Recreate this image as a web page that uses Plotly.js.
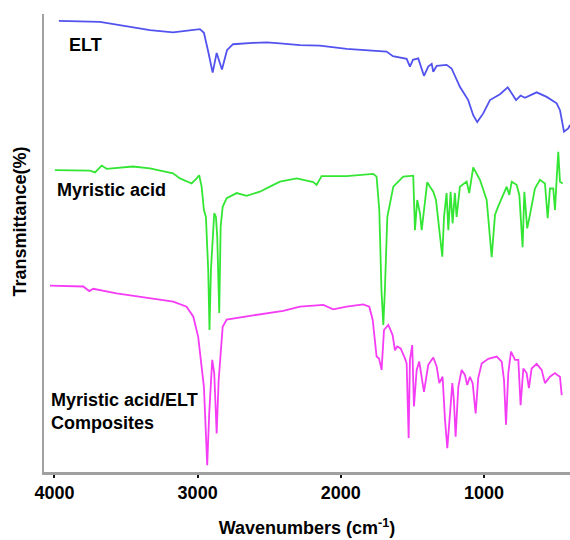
<!DOCTYPE html>
<html>
<head>
<meta charset="utf-8">
<script src="https://cdn.plot.ly/plotly-3.0.1.min.js"></script>
<style>html,body{margin:0;padding:0;background:#fff;}#chart{width:570px;height:540px;}</style>
</head>
<body>
<div id="chart"></div>
<script>
// Wavenumber (cm-1) and transmittance (arbitrary, offset spectra)
const eltWave = [3969,3682,3333,3172,2984,2956,2928,2895,2867,2830,2795,2753,2614,2516,2425,2285,2146,1959,1680,1636,1540,1517,1496,1459,1419,1389,1365,1354,1330,1261,1226,1168,1110,1075,1047,1005,958,888,834,806,776,744,714,632,562,492,469,441,411,399];
const eltT = [98.5,98.3,96.5,96.0,96.7,95.9,92.1,87.2,91.5,87.9,92.1,93.4,93.7,93.8,93.6,93.2,93.1,92.4,91.8,90.8,90.2,88.5,90.0,90.3,86.5,88.5,89.1,87.4,88.7,88.9,88.1,84.1,81.2,77.9,76.4,78.3,81.2,82.5,84.0,82.7,81.2,82.2,81.7,82.9,81.9,80.5,79.0,74.3,75.0,75.8];

const maWave = [3997,3752,3717,3670,3635,3452,3333,3172,3123,3042,3007,2989,2972,2956,2942,2926,2917,2907,2884,2872,2863,2849,2839,2825,2797,2727,2658,2565,2495,2425,2308,2192,2169,2134,1959,1773,1750,1731,1716,1703,1692,1675,1633,1564,1494,1482,1466,1447,1435,1419,1396,1377,1354,1335,1312,1291,1279,1261,1249,1233,1219,1203,1191,1168,1121,1103,1075,1028,981,946,923,902,841,823,806,772,753,730,718,698,679,644,609,574,555,539,516,504,492,481,469,450];
const maT = [65.9,65.8,65.4,66.9,66.2,66.7,66.3,65.2,64.1,63.0,64.1,64.8,62.3,57.2,55.7,44.1,31.0,44.1,56.5,55.7,51.4,34.7,53.6,57.9,59.8,60.9,60.3,61.2,62.3,63.4,64.1,63.3,62.7,64.6,64.6,65.1,64.5,57.2,39.7,32.1,39.7,55.7,62.3,64.5,64.7,52.8,59.4,56.5,52.8,57.2,63.3,62.3,61.2,59.4,52.8,47.0,55.7,60.9,52.8,61.2,54.3,60.9,55.7,62.3,63.4,60.9,66.5,63.8,59.4,46.9,56.1,57.9,62.3,60.5,63.4,62.7,60.5,49.1,61.2,53.2,56.1,61.9,63.8,63.0,55.4,61.9,61.9,57.2,64.1,69.9,63.4,63.0];

const compWave = [4031,3799,3757,3729,3566,3333,3170,3077,3030,2996,2972,2956,2933,2919,2898,2884,2867,2853,2825,2797,2634,2402,2285,2122,2053,1959,1843,1801,1777,1750,1733,1715,1698,1668,1638,1622,1606,1582,1552,1540,1526,1517,1501,1489,1470,1452,1419,1389,1354,1330,1312,1289,1272,1256,1237,1221,1210,1198,1179,1156,1133,1117,1098,1079,1058,1040,1016,970,911,876,860,846,830,811,783,760,744,725,702,686,667,632,597,574,539,504,488,469,457];
const compT = [40.7,40.5,39.5,40.0,39.0,37.9,37.2,36.1,33.9,29.5,23.7,18.6,1.5,12.8,24.5,21.6,8.4,20.1,31.7,33.3,34.1,35.2,36.1,36.5,35.5,36.1,36.6,36.1,33.2,25.2,24.8,22.3,31.0,32.1,29.9,26.6,27.4,27.0,24.8,23.7,7.4,24.5,27.7,14.3,22.3,24.1,17.5,23.4,25.0,23.0,19.4,20.8,11.4,5.2,12.8,19.4,15.7,7.7,18.6,22.3,21.2,19.0,20.8,19.4,12.8,20.5,23.7,24.7,25.2,24.1,20.1,10.3,21.6,26.3,24.5,24.5,14.6,22.6,21.6,18.3,22.6,23.6,22.3,19.4,20.8,21.6,21.2,20.8,16.8];

const seriesNames = ["ELT", "Myristic acid", "Myristic acid/ELT<br>Composites"];
const tickVals = [4000, 3000, 2000, 1000];
const tickText = ["4000", "3000", "2000", "1000"];

const FONT = "Liberation Sans, Arial, sans-serif";
const LABEL_FONT = {family: FONT, size: 18, weight: "bold", color: "#000"};

const traces = [
  {x: eltWave, y: eltT, mode: "lines", line: {color: "#5252ee", width: 1.8}, name: seriesNames[0], hoverinfo: "skip"},
  {x: maWave, y: maT, mode: "lines", line: {color: "#33e633", width: 1.8}, name: seriesNames[1], hoverinfo: "skip"},
  {x: compWave, y: compT, mode: "lines", line: {color: "#f53cf5", width: 1.8}, name: seriesNames[2], hoverinfo: "skip"}
];

const layout = {
  width: 570, height: 540,
  margin: {l: 44, r: 0, t: 14, b: 68},
  paper_bgcolor: "#fff", plot_bgcolor: "#fff",
  showlegend: false,
  font: {family: FONT, color: "#000"},
  xaxis: {
    range: [4073, 399], autorange: false,
    tickvals: tickVals, ticktext: tickText,
    ticks: "outside", ticklen: 3, tickwidth: 2, tickcolor: "#111",
    showline: true, linecolor: "#a0a0a0", linewidth: 2.5,
    showgrid: false, zeroline: false,
    tickfont: LABEL_FONT,
    title: {text: "Wavenumbers (cm<sup>-1</sup>)", font: LABEL_FONT, standoff: 20}
  },
  yaxis: {
    range: [0, 100], autorange: false,
    showline: true, linecolor: "#a0a0a0", linewidth: 2.5,
    showticklabels: false, ticks: "", showgrid: false, zeroline: false
  },
  annotations: [
    {xref: "paper", yref: "paper", x: 0.0437, y: 0.932, xanchor: "left", yanchor: "middle", showarrow: false,
     text: seriesNames[0], font: LABEL_FONT},
    {xref: "paper", yref: "paper", x: 0.0209, y: 0.6164, xanchor: "left", yanchor: "middle", showarrow: false,
     text: seriesNames[1], font: LABEL_FONT},
    {xref: "paper", yref: "paper", x: 0.0101, y: 0.1326, xanchor: "left", yanchor: "middle", showarrow: false, align: "left",
     text: seriesNames[2], font: LABEL_FONT},
    {xref: "paper", yref: "paper", x: 0, xshift: -24, y: 0.547, xanchor: "center", yanchor: "middle", showarrow: false,
     textangle: -90, text: "Transmittance(%)", font: LABEL_FONT}
  ]
};

Plotly.newPlot("chart", traces, layout, {displayModeBar: false, staticPlot: true});
</script>
</body>
</html>
